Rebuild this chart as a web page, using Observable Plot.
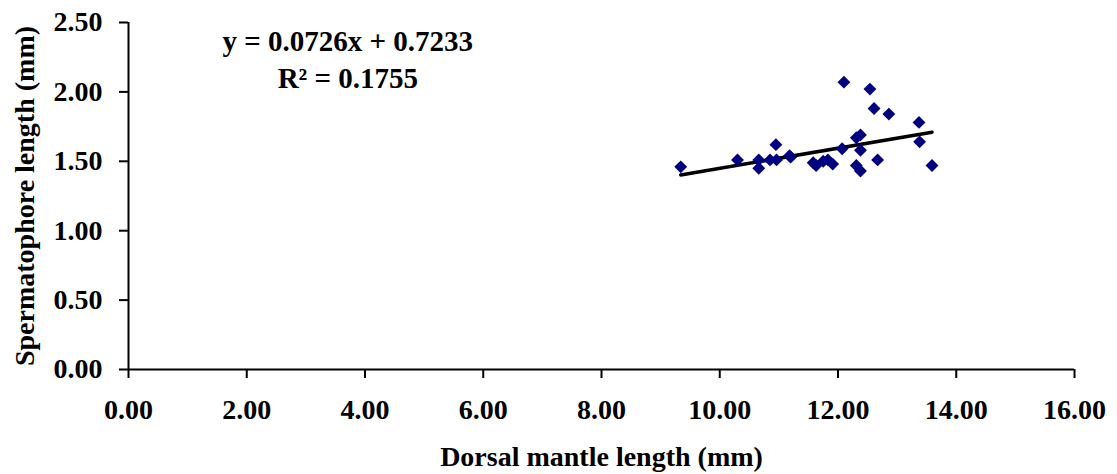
<!DOCTYPE html>
<html>
<head>
<meta charset="utf-8">
<script src="https://cdn.jsdelivr.net/npm/d3@7"></script>
<script src="https://cdn.jsdelivr.net/npm/@observablehq/plot@0.6"></script>
<style>
  body { margin: 0; background: #fff; }
</style>
</head>
<body>
<div id="chart"></div>
<script>
// Dorsal mantle length (mm) of each specimen
const dorsalMantle = [
  9.34, 10.30, 10.66, 10.66, 10.85, 10.95, 10.96, 11.18, 11.20, 11.58,
  11.63, 11.75, 11.83, 11.91, 12.07, 12.10, 12.31, 12.38, 12.38, 12.31,
  12.38, 12.54, 12.61, 12.67, 12.86, 13.37, 13.38, 13.59
];
// Spermatophore length (mm) of the same specimens
const spermLength = [
  1.46, 1.51, 1.51, 1.45, 1.51, 1.62, 1.51, 1.54, 1.53, 1.49,
  1.47, 1.50, 1.51, 1.48, 1.59, 2.07, 1.67, 1.69, 1.58, 1.47,
  1.43, 2.02, 1.88, 1.51, 1.84, 1.78, 1.64, 1.47
];

// Linear trendline coefficients and fit
const slope = 0.0726;
const intercept = 0.7233;
const rSquared = 0.1755;

const xTicks = [0, 2, 4, 6, 8, 10, 12, 14, 16];
const yTicks = [0, 0.5, 1, 1.5, 2, 2.5];

const xTitle = "Dorsal mantle length (mm)";
const yTitle = "Spermatophore length (mm)";
const equationText = `y = ${slope}x + ${intercept}\nR\u00B2 = ${rSquared}`;
// equation placed in data space, upper left of the frame
const equationAt = { x: 3.71, y: 2.49 };

const points = dorsalMantle.map((x, i) => ({ x, y: spermLength[i] }));
const [xMin, xMax] = d3.extent(dorsalMantle);
const trend = [xMin, xMax].map(x => ({ x, y: slope * x + intercept }));

const SERIF = "'Liberation Serif', 'Times New Roman', 'DejaVu Serif', serif";
const fmt = d3.format(".2f");

const chart = Plot.plot({
  width: 1117,
  height: 474,
  marginLeft: 128,
  marginRight: 43,
  marginTop: 22,
  marginBottom: 105,
  style: {
    fontFamily: SERIF,
    fontSize: "28px",
    fontWeight: "bold",
    color: "black",
    background: "white",
    overflow: "visible"
  },
  x: { domain: [0, 16] },
  y: { domain: [0, 2.5] },
  marks: [
    Plot.axisX({ ticks: xTicks, tickSize: 9, tickPadding: 21, tickFormat: fmt, label: null, strokeWidth: 2, fontSize: 28 }),
    Plot.axisY({ ticks: yTicks, tickSize: 9, tickPadding: 17, tickFormat: fmt, label: null, strokeWidth: 2, fontSize: 28 }),
    Plot.ruleY([0], { stroke: "black", strokeWidth: 2 }),
    Plot.ruleX([0], { stroke: "black", strokeWidth: 2 }),
    Plot.line(trend, { x: "x", y: "y", stroke: "black", strokeWidth: 3.5 }),
    Plot.dot(points, { x: "x", y: "y", symbol: "diamond2", r: 5.8, fill: "#000080", stroke: "none" }),
    Plot.text([equationText], {
      x: () => equationAt.x, y: () => equationAt.y, text: d => d,
      textAnchor: "middle", lineAnchor: "top", lineHeight: 1.3, fontSize: 29
    }),
    Plot.text([xTitle], { frameAnchor: "bottom", lineAnchor: "top", dy: 77, text: d => d, fontSize: 28 }),
    Plot.text([yTitle], { frameAnchor: "left", textAnchor: "middle", rotate: -90, dx: -103, text: d => d, fontSize: 28 })
  ]
});

document.getElementById("chart").appendChild(chart);
</script>
</body>
</html>
